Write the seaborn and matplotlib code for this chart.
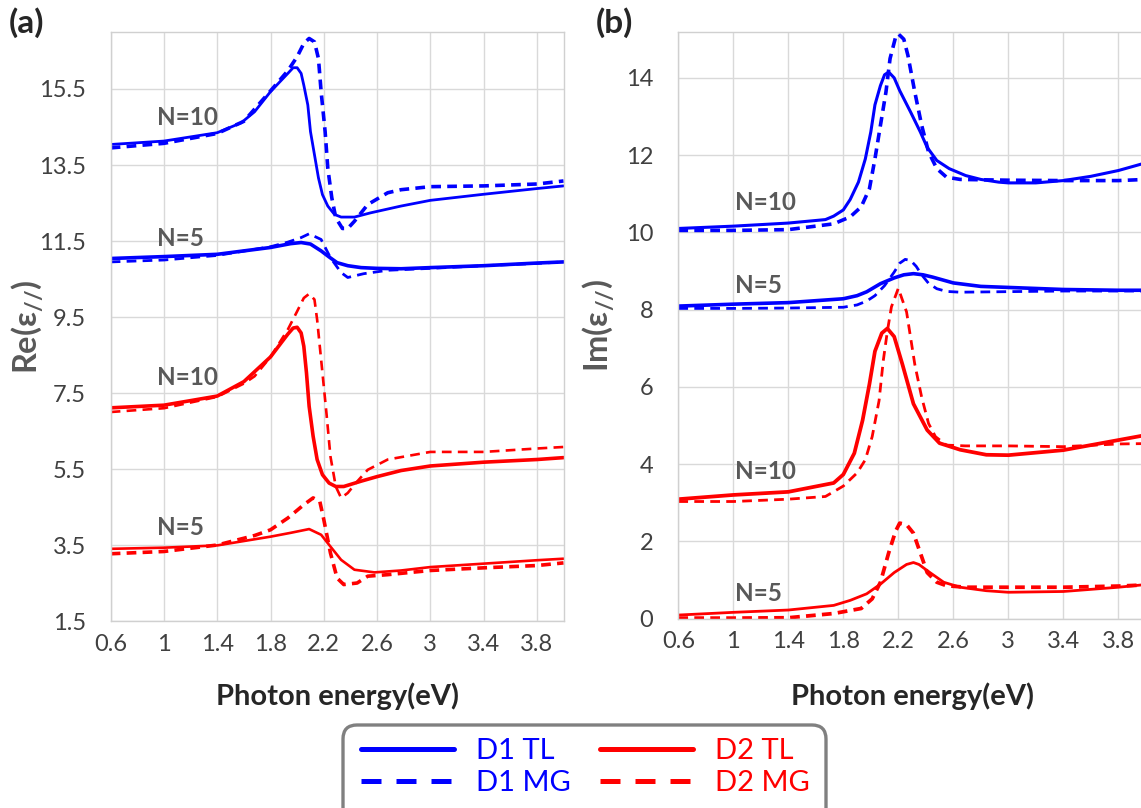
import numpy as np
import pandas as pd
import seaborn as sns
import matplotlib.pyplot as plt
from matplotlib.lines import Line2D
from matplotlib.patches import FancyBboxPatch
from matplotlib.transforms import IdentityTransform

# ---- values (photon energy in eV) ----
# (a) real part
a_d1_tl10_x = [0.6, 1.0, 1.4, 1.58, 1.68, 1.8, 1.93, 1.97, 2.0, 2.03, 2.05, 2.08, 2.10, 2.13, 2.16, 2.19, 2.23, 2.28, 2.33, 2.43, 2.55, 2.78, 3.0, 3.4, 3.8, 4.0]
a_d1_tl10_y = [14.04, 14.13, 14.35, 14.61, 14.9, 15.43, 15.91, 16.06, 16.06, 15.91, 15.6, 15.08, 14.38, 13.77, 13.16, 12.72, 12.42, 12.2, 12.13, 12.13, 12.24, 12.42, 12.57, 12.73, 12.88, 12.95]
a_d1_mg10_x = [0.6, 1.0, 1.4, 1.6, 1.8, 1.93, 2.0, 2.05, 2.09, 2.13, 2.16, 2.18, 2.21, 2.23, 2.26, 2.29, 2.34, 2.38, 2.43, 2.53, 2.68, 2.78, 3.0, 3.4, 3.8, 4.0]
a_d1_mg10_y = [13.95, 14.07, 14.33, 14.65, 15.45, 15.98, 16.35, 16.7, 16.83, 16.74, 16.3, 15.43, 14.38, 13.42, 12.64, 12.11, 11.83, 11.83, 12.02, 12.46, 12.77, 12.85, 12.93, 12.95, 13.0, 13.08]
a_d1_tl5_x = [0.6, 1.0, 1.4, 1.8, 1.95, 2.03, 2.1, 2.18, 2.24, 2.30, 2.38, 2.48, 2.6, 2.78, 3.0, 3.4, 3.8, 4.0]
a_d1_tl5_y = [11.04, 11.09, 11.15, 11.33, 11.43, 11.46, 11.42, 11.24, 11.08, 10.93, 10.85, 10.80, 10.78, 10.77, 10.8, 10.85, 10.92, 10.95]
a_d1_mg5_x = [0.6, 1.0, 1.4, 1.8, 1.93, 2.03, 2.09, 2.18, 2.25, 2.33, 2.38, 2.5, 2.68, 3.0, 3.4, 3.8, 4.0]
a_d1_mg5_y = [10.95, 11.0, 11.12, 11.35, 11.47, 11.59, 11.69, 11.54, 11.06, 10.67, 10.54, 10.64, 10.73, 10.78, 10.85, 10.91, 10.95]
a_d2_tl10_x = [0.6, 1.0, 1.4, 1.6, 1.8, 1.88, 1.93, 1.97, 2.0, 2.03, 2.05, 2.07, 2.09, 2.12, 2.15, 2.19, 2.24, 2.29, 2.35, 2.48, 2.6, 2.78, 3.0, 3.4, 3.8, 4.0]
a_d2_tl10_y = [7.11, 7.18, 7.42, 7.8, 8.45, 8.82, 9.05, 9.21, 9.23, 9.08, 8.73, 8.03, 7.15, 6.36, 5.75, 5.35, 5.13, 5.04, 5.04, 5.18, 5.3, 5.46, 5.58, 5.68, 5.75, 5.8]
a_d2_mg10_x = [0.6, 1.0, 1.4, 1.6, 1.68, 1.8, 1.93, 2.0, 2.05, 2.09, 2.13, 2.15, 2.18, 2.22, 2.25, 2.29, 2.33, 2.38, 2.44, 2.53, 2.68, 3.0, 3.4, 3.8, 4.0]
a_d2_mg10_y = [7.0, 7.1, 7.4, 7.75, 7.94, 8.45, 9.17, 9.65, 10.0, 10.11, 9.96, 9.43, 8.38, 6.97, 5.83, 5.04, 4.74, 4.87, 5.13, 5.48, 5.75, 5.95, 5.95, 6.04, 6.08]
a_d2_tl5_x = [0.6, 1.0, 1.4, 1.8, 1.95, 2.09, 2.18, 2.25, 2.33, 2.43, 2.58, 2.78, 3.0, 3.4, 3.8, 4.0]
a_d2_tl5_y = [3.4, 3.43, 3.49, 3.72, 3.82, 3.92, 3.77, 3.46, 3.11, 2.85, 2.78, 2.83, 2.92, 3.01, 3.1, 3.14]
a_d2_mg5_x = [0.6, 1.0, 1.4, 1.68, 1.8, 1.93, 2.05, 2.12, 2.17, 2.20, 2.25, 2.30, 2.35, 2.45, 2.53, 2.68, 3.0, 3.4, 3.8, 4.0]
a_d2_mg5_y = [3.27, 3.33, 3.5, 3.75, 3.90, 4.21, 4.56, 4.74, 4.65, 4.17, 3.29, 2.63, 2.46, 2.5, 2.68, 2.72, 2.83, 2.9, 2.96, 3.03]

# (b) imaginary part
b_d1_tl10_x = [0.6, 1.0, 1.4, 1.67, 1.73, 1.8, 1.85, 1.91, 1.96, 2.0, 2.03, 2.07, 2.1, 2.13, 2.17, 2.21, 2.29, 2.36, 2.41, 2.48, 2.57, 2.69, 2.8, 2.93, 3.0, 3.2, 3.4, 3.6, 3.8, 4.0]
b_d1_tl10_y = [10.1, 10.16, 10.24, 10.33, 10.42, 10.58, 10.85, 11.3, 11.9, 12.6, 13.3, 13.8, 14.08, 14.15, 14.0, 13.67, 13.11, 12.6, 12.2, 11.86, 11.65, 11.47, 11.37, 11.3, 11.28, 11.28, 11.34, 11.45, 11.6, 11.8]
b_d1_mg10_x = [0.6, 1.0, 1.4, 1.73, 1.85, 1.93, 1.99, 2.03, 2.07, 2.11, 2.14, 2.18, 2.2, 2.24, 2.27, 2.32, 2.37, 2.42, 2.48, 2.55, 2.65, 3.0, 3.4, 3.8, 4.0]
b_d1_mg10_y = [10.05, 10.05, 10.07, 10.22, 10.4, 10.66, 11.13, 11.9, 12.77, 13.63, 14.5, 15.05, 15.14, 15.0, 14.58, 13.63, 12.77, 12.08, 11.65, 11.43, 11.37, 11.35, 11.34, 11.34, 11.37]
b_d1_tl5_x = [0.6, 1.0, 1.4, 1.8, 1.9, 1.97, 2.07, 2.17, 2.24, 2.31, 2.38, 2.45, 2.6, 2.8, 3.4, 3.8, 4.0]
b_d1_tl5_y = [8.09, 8.14, 8.18, 8.28, 8.36, 8.46, 8.67, 8.82, 8.9, 8.93, 8.9, 8.84, 8.69, 8.6, 8.52, 8.5, 8.5]
b_d1_mg5_x = [0.6, 1.0, 1.4, 1.8, 1.9, 1.97, 2.03, 2.1, 2.17, 2.21, 2.25, 2.29, 2.33, 2.37, 2.42, 2.48, 2.55, 2.65, 3.4, 3.8, 4.0]
b_d1_mg5_y = [8.03, 8.03, 8.04, 8.06, 8.12, 8.22, 8.36, 8.62, 8.97, 9.2, 9.3, 9.27, 9.12, 8.9, 8.68, 8.54, 8.47, 8.45, 8.48, 8.48, 8.48]
b_d2_tl10_x = [0.6, 1.0, 1.4, 1.73, 1.8, 1.88, 1.94, 1.99, 2.03, 2.08, 2.12, 2.17, 2.23, 2.31, 2.41, 2.5, 2.65, 2.84, 3.0, 3.4, 3.8, 4.0]
b_d2_tl10_y = [3.09, 3.2, 3.28, 3.51, 3.73, 4.28, 5.13, 6.07, 6.92, 7.39, 7.51, 7.3, 6.58, 5.56, 4.88, 4.54, 4.37, 4.24, 4.23, 4.36, 4.62, 4.75]
b_d2_mg10_x = [0.6, 1.0, 1.4, 1.67, 1.8, 1.9, 1.96, 2.01, 2.06, 2.09, 2.12, 2.15, 2.2, 2.26, 2.29, 2.32, 2.37, 2.42, 2.47, 2.55, 2.69, 3.0, 3.4, 3.8, 4.0]
b_d2_mg10_y = [3.03, 3.03, 3.09, 3.16, 3.43, 3.77, 4.11, 4.71, 5.64, 6.66, 7.43, 8.07, 8.55, 7.94, 7.26, 6.58, 5.73, 5.05, 4.71, 4.49, 4.47, 4.47, 4.45, 4.52, 4.53]
b_d2_tl5_x = [0.6, 1.0, 1.4, 1.73, 1.85, 1.97, 2.07, 2.17, 2.26, 2.31, 2.35, 2.43, 2.53, 2.65, 2.84, 3.0, 3.4, 3.8, 4.0]
b_d2_tl5_y = [0.09, 0.16, 0.22, 0.34, 0.47, 0.64, 0.89, 1.19, 1.4, 1.45, 1.4, 1.19, 0.94, 0.81, 0.72, 0.68, 0.7, 0.81, 0.88]
b_d2_mg5_x = [0.6, 1.0, 1.4, 1.73, 1.93, 2.01, 2.07, 2.13, 2.18, 2.21, 2.26, 2.31, 2.36, 2.41, 2.48, 2.55, 2.69, 3.0, 3.4, 3.8, 4.0]
b_d2_mg5_y = [0.01, 0.01, 0.02, 0.13, 0.26, 0.51, 0.94, 1.70, 2.26, 2.47, 2.43, 2.21, 1.70, 1.19, 0.94, 0.85, 0.81, 0.81, 0.81, 0.84, 0.87]

x_ticks = [0.6, 1.0, 1.4, 1.8, 2.2, 2.6, 3.0, 3.4, 3.8]
x_tick_labels = ["0.6", "1", "1.4", "1.8", "2.2", "2.6", "3", "3.4", "3.8"]
a_y_ticks = [1.5, 3.5, 5.5, 7.5, 9.5, 11.5, 13.5, 15.5]
b_y_ticks = [0, 2, 4, 6, 8, 10, 12, 14]
legend_labels = ["D1 TL", "D1 MG", "D2 TL", "D2 MG"]

# N labels: (text, x, y)
a_notes = [("N=10", 0.95, 14.74), ("N=5", 0.95, 11.56), ("N=10", 0.95, 7.92), ("N=5", 0.95, 3.97)]
b_notes = [("N=10", 1.01, 10.77), ("N=5", 1.01, 8.63), ("N=10", 1.01, 3.8), ("N=5", 1.01, 0.66)]

BLUE = "#0000ff"
RED = "#ff0000"
SOLID = "-"
DASH = (0, (7, 4.5))

sns.set_style("whitegrid")
plt.rcParams["font.family"] = ["Lato", "DejaVu Sans"]
plt.rcParams["mathtext.fontset"] = "custom"
plt.rcParams["mathtext.rm"] = "Lato:bold"
plt.rcParams["mathtext.it"] = "Lato:bold:italic"
plt.rcParams["mathtext.default"] = "it"
plt.rcParams["lines.scale_dashes"] = False

fig = plt.figure(figsize=(11.41, 8.08), dpi=100)
ax_a = fig.add_axes([0.0970, 0.2314, 0.3969, 0.7290])
ax_b = fig.add_axes([0.5945, 0.2345, 0.4097, 0.7265])

curves_a = [
    (a_d1_tl10_x, a_d1_tl10_y, BLUE, SOLID, 2.0),
    (a_d1_mg10_x, a_d1_mg10_y, BLUE, DASH, 2.6),
    (a_d1_tl5_x, a_d1_tl5_y, BLUE, SOLID, 2.6),
    (a_d1_mg5_x, a_d1_mg5_y, BLUE, DASH, 2.0),
    (a_d2_tl10_x, a_d2_tl10_y, RED, SOLID, 2.6),
    (a_d2_mg10_x, a_d2_mg10_y, RED, DASH, 1.9),
    (a_d2_tl5_x, a_d2_tl5_y, RED, SOLID, 1.9),
    (a_d2_mg5_x, a_d2_mg5_y, RED, DASH, 2.6),
]
curves_b = [
    (b_d1_tl10_x, b_d1_tl10_y, BLUE, SOLID, 2.2),
    (b_d1_mg10_x, b_d1_mg10_y, BLUE, DASH, 2.6),
    (b_d1_tl5_x, b_d1_tl5_y, BLUE, SOLID, 2.6),
    (b_d1_mg5_x, b_d1_mg5_y, BLUE, DASH, 2.0),
    (b_d2_tl10_x, b_d2_tl10_y, RED, SOLID, 2.7),
    (b_d2_mg10_x, b_d2_mg10_y, RED, DASH, 2.0),
    (b_d2_tl5_x, b_d2_tl5_y, RED, SOLID, 2.0),
    (b_d2_mg5_x, b_d2_mg5_y, RED, DASH, 2.7),
]

for ax, curves, notes, yt, ylim, ylab, lab_x in [
    (ax_a, curves_a, a_notes, a_y_ticks, (1.5, 17.0), r"Re(ε$_{//}$)", -0.145),
    (ax_b, curves_b, b_notes, b_y_ticks, (0, 15.2), r"Im(ε$_{//}$)", -0.133),
]:
    for xs, ys, col, ls, lw in curves:
        sns.lineplot(x=xs, y=ys, ax=ax, color=col, linestyle=ls, linewidth=lw,
                     estimator=None, sort=False, legend=False)
    for txt, tx, ty in notes:
        ax.text(tx, ty, txt, fontsize=17.5, fontweight="bold", color="#595959",
                ha="left", va="center")
    ax.set_xlim(0.6, 4.0)
    ax.set_ylim(*ylim)
    ax.set_xticks(x_ticks)
    ax.set_xticklabels(x_tick_labels)
    ax.set_yticks(yt)
    ax.set_yticklabels([f"{v:g}" for v in yt])
    ax.tick_params(axis="both", length=0, labelsize=17, labelcolor="#404040")
    ax.tick_params(axis="y", pad=18)
    ax.tick_params(axis="x", pad=9)
    ax.grid(True, color="#d9d9d9", linewidth=1)
    for s in ax.spines.values():
        s.set_color("#d0d0d0")
        s.set_linewidth(1)
    ax.set_xlabel("Photon energy(eV)", fontsize=21, fontweight="bold", color="#262626")
    ax.set_ylabel(ylab, fontsize=23.5, fontweight="bold", color="#595959")
    ax.yaxis.set_label_coords(lab_x, 0.5)

ax_a.xaxis.set_label_coords(0.5, -0.104)
ax_b.xaxis.set_label_coords(0.5, -0.109)
ax_b.spines["right"].set_visible(False)

fig.text(9 / 1141, 1 - 7 / 808, "(a)", fontsize=24, fontweight="bold", ha="left", va="top")
fig.text(596 / 1141, 1 - 7 / 808, "(b)", fontsize=24, fontweight="bold", ha="left", va="top")

# legend with a rounded grey box
box = FancyBboxPatch((343, -30), 483, 113, boxstyle="round,pad=0,rounding_size=14",
                     transform=IdentityTransform(), edgecolor="#808080", facecolor="white",
                     linewidth=2.4, zorder=1)
fig.add_artist(box)
handles = [
    Line2D([], [], color=BLUE, linewidth=3.6, linestyle="-"),
    Line2D([], [], color=BLUE, linewidth=3.6, linestyle=(0, (14.4, 10.8))),
    Line2D([], [], color=RED, linewidth=3.6, linestyle="-"),
    Line2D([], [], color=RED, linewidth=3.6, linestyle=(0, (14.4, 10.8))),
]
leg = fig.legend(handles, legend_labels, ncol=2, loc="center",
                 bbox_to_anchor=(585.5 / 1141, (808 - 767) / 808), frameon=False,
                 fontsize=21, handlelength=3.2, handletextpad=0.75, columnspacing=1.0,
                 labelspacing=0.2, labelcolor="linecolor")
leg.set_zorder(5)

fig.savefig("out.png", dpi=100)
